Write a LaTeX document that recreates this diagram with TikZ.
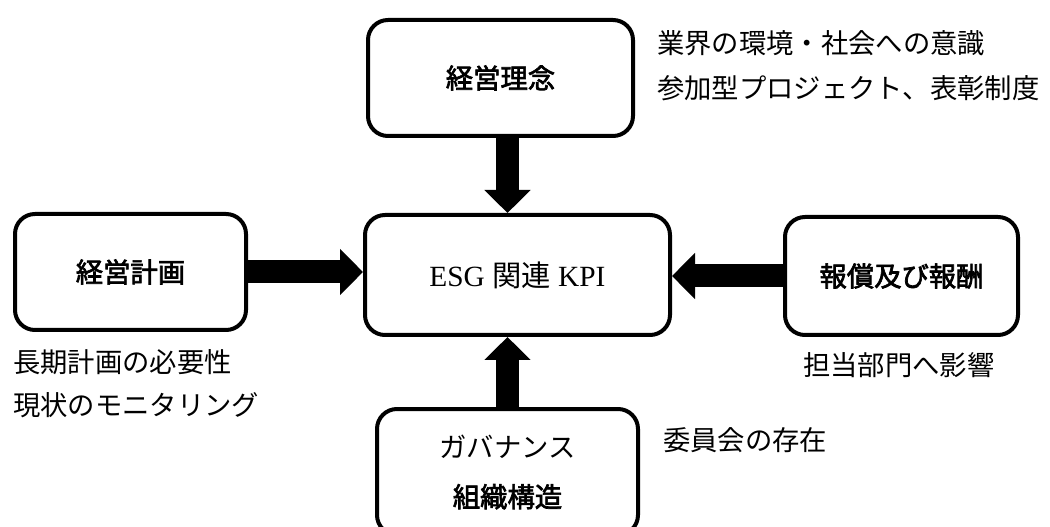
\documentclass[tikz,border=0pt]{standalone}
\usepackage{fontspec}
\setmainfont{Liberation Serif}
\newfontfamily\jp{Noto Sans CJK JP}
\newfontfamily\jpm[FakeBold=2.5]{Noto Sans CJK JP}
\usetikzlibrary{arrows.meta}
\begin{document}
\begin{tikzpicture}[x=0.75pt,y=-0.75pt,
  box/.style={draw, line width=3pt, rounded corners=15pt, inner sep=0pt, align=center,
    font=\jpm\fontsize{20.5pt}{37.5pt}\selectfont},
  note/.style={anchor=west, inner sep=0pt, font=\jp\fontsize{20.5pt}{24pt}\selectfont},
  fat/.style={line width=17.25pt, -{Triangle[length=17.25pt,width=33.75pt]}}]
\useasboundingbox (0,0) rectangle (1050,527);
\fill[white] (0,0) rectangle (1050,527);
% boxes
\node[box, minimum width=198.75pt, minimum height=87pt] (top) at (500.5,78) {経営理念};
\node[box, minimum width=228.75pt, minimum height=90pt,
  font=\fontsize{22pt}{24pt}\selectfont\rmfamily] (kpi) at (517.5,275) {ESG {\jp 関連} KPI};
\node[box, minimum width=173.25pt, minimum height=87pt] (plan) at (130.5,272) {経営計画};
\node[box, minimum width=174.75pt, minimum height=88.5pt] (rew) at (901.5,276) {報償及び報酬};
\node[box, minimum width=195.75pt, minimum height=94.5pt] (gov) at (507.5,472) {{\jp ガバナンス}\\組織構造};
% notes
\node[note] (n1) at (657,43) {業界の環境・社会への意識};
\node[note] (n2) at (657,88) {参加型プロジェクト、表彰制度};
\node[note] (n3) at (13,362) {長期計画の必要性};
\node[note] (n4) at (13,405) {現状のモニタリング};
\node[note] (n5) at (803,365) {担当部門へ影響};
\node[note] (n6) at (663,440) {委員会の存在};
% arrows
\draw[fat] (top.south -| gov.north) -- (kpi.north -| gov.north);
\draw[fat] (plan.east) -- (plan.east -| kpi.west);
\draw[fat] (rew.west) -- (rew.west -| kpi.east);
\draw[fat] (gov.north) -- (gov.north |- kpi.south);
\end{tikzpicture}
\end{document}
